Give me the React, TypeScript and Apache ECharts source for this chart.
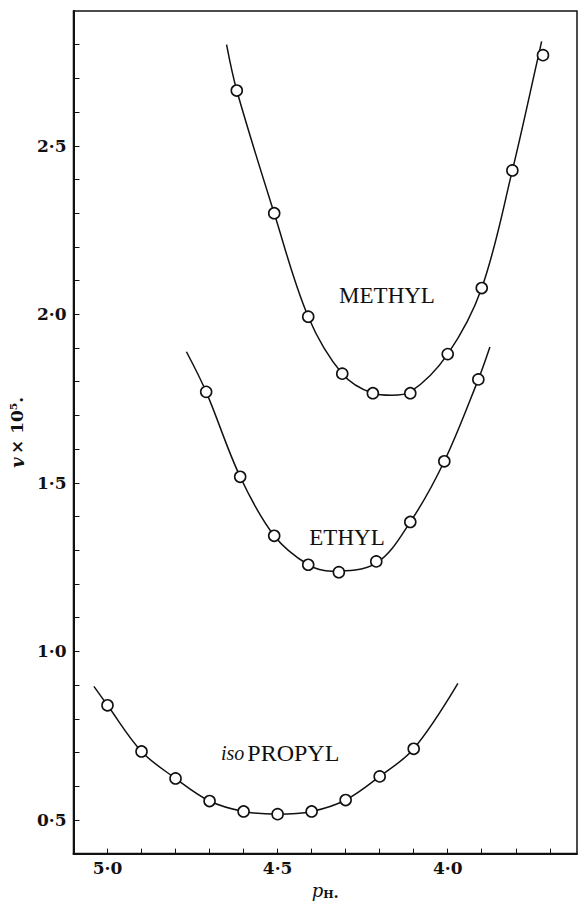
import React, { useEffect, useRef } from "react";
import * as echarts from "echarts";

// ---- data ----
const methylPH = [4.62, 4.51, 4.41, 4.31, 4.22, 4.11, 4.0, 3.9, 3.81, 3.72];
const methylV = [2.664, 2.3, 1.993, 1.824, 1.766, 1.766, 1.882, 2.078, 2.427, 2.769];

const ethylPH = [4.71, 4.61, 4.51, 4.41, 4.32, 4.21, 4.11, 4.01, 3.91];
const ethylV = [1.77, 1.518, 1.343, 1.257, 1.235, 1.267, 1.384, 1.564, 1.807];

const isoPH = [5.0, 4.9, 4.8, 4.7, 4.6, 4.5, 4.4, 4.3, 4.2, 4.1];
const isoV = [0.84, 0.703, 0.623, 0.556, 0.525, 0.517, 0.525, 0.559, 0.629, 0.711];

// fitted curves as drawn
const methylCurvePH = [4.65, 4.62, 4.51, 4.41, 4.31, 4.22, 4.165, 4.11, 4.0, 3.9, 3.81, 3.735, 3.724];
const methylCurveV = [2.8, 2.664, 2.3, 1.993, 1.824, 1.766, 1.76, 1.77, 1.882, 2.078, 2.427, 2.76, 2.81];

const ethylCurvePH = [4.768, 4.71, 4.61, 4.51, 4.41, 4.34, 4.21, 4.11, 4.01, 3.91, 3.876];
const ethylCurveV = [1.889, 1.77, 1.518, 1.343, 1.257, 1.238, 1.262, 1.384, 1.564, 1.807, 1.903];

const isoCurvePH = [5.04, 5.0, 4.9, 4.8, 4.7, 4.6, 4.5, 4.4, 4.3, 4.2, 4.1, 3.97];
const isoCurveV = [0.896, 0.84, 0.703, 0.623, 0.556, 0.525, 0.517, 0.525, 0.559, 0.629, 0.711, 0.905];

const xTicks = [5.0, 4.9, 4.8, 4.7, 4.6, 4.5, 4.4, 4.3, 4.2, 4.1, 4.0, 3.9, 3.8, 3.7];
const xLabels = [5.0, 4.5, 4.0];
const yTicks = [0.5, 0.6, 0.7, 0.8, 0.9, 1.0, 1.1, 1.2, 1.3, 1.4, 1.5, 1.6, 1.7, 1.8, 1.9, 2.0, 2.1, 2.2, 2.3, 2.4, 2.5, 2.6, 2.7, 2.8];
const yLabels = [0.5, 1.0, 1.5, 2.0, 2.5];

const zip = (a: number[], b: number[]) => a.map((x, i) => [x, b[i]]);
const fmt = (v: number) => v.toFixed(1).replace(".", "·");

const INK = "#111";

export default function App() {
  const ref = useRef<HTMLDivElement>(null);
  useEffect(() => {
    document.body.style.margin = "0";
    if (!ref.current) return;
    const chart = echarts.init(ref.current, undefined, { renderer: "svg" });
    const curve = (name: string, px: number[], vy: number[]) => ({
      name,
      type: "line",
      data: zip(px, vy),
      smooth: 0.35,
      showSymbol: false,
      symbol: "none",
      silent: true,
      lineStyle: { color: INK, width: 1.5 },
      z: 2,
    });
    const pts = (name: string, px: number[], vy: number[]) => ({
      name,
      type: "scatter",
      data: zip(px, vy),
      symbol: "circle",
      symbolSize: 11,
      itemStyle: { color: "#ffffff", borderColor: INK, borderWidth: 1.6, opacity: 1 },
      z: 3,
    });
    const labelFont = {
      fontFamily: "DejaVu Serif",
      fontWeight: "bold" as const,
      fontSize: 17,
      color: INK,
    };
    chart.setOption({
      animation: false,
      backgroundColor: "#fff",
      grid: {
        left: 72,
        right: 3,
        top: 11,
        bottom: 50,
        show: true,
        borderColor: INK,
        borderWidth: 1.5,
        backgroundColor: "transparent",
      },
      xAxis: {
        type: "value",
        min: 3.62,
        max: 5.1,
        inverse: true,
        axisLine: { show: true, lineStyle: { color: INK, width: 2 } },
        axisTick: { show: true, inside: true, length: 5, customValues: xTicks, lineStyle: { color: INK, width: 1 } },
        axisLabel: { ...labelFont, customValues: xLabels, formatter: fmt, margin: 6 },
        splitLine: { show: false },
        name: "{p|p}{h|H}{d|.}",
        nameLocation: "middle",
        nameGap: 26,
        nameTextStyle: {
          rich: {
            p: { fontFamily: "DejaVu Serif", fontStyle: "italic", fontSize: 18, color: INK },
            h: { fontFamily: "DejaVu Serif", fontWeight: "bold", fontSize: 11, color: INK, padding: [8, 0, 0, 0] },
            d: { fontFamily: "DejaVu Serif", fontWeight: "bold", fontSize: 15, color: INK, padding: [4, 0, 0, 0] },
          },
        },
      },
      yAxis: {
        type: "value",
        min: 0.4,
        max: 2.9,
        axisLine: { show: true, lineStyle: { color: INK, width: 2 } },
        axisTick: { show: true, inside: true, length: 6, customValues: yTicks, lineStyle: { color: INK, width: 1 } },
        axisLabel: { ...labelFont, customValues: yLabels, formatter: fmt, margin: 7 },
        splitLine: { show: false },
        name: "{v|v} {b|× 10⁵.}",
        nameLocation: "middle",
        nameRotate: 90,
        nameGap: 45,
        nameTextStyle: {
          rich: {
            v: { fontFamily: "DejaVu Serif", fontStyle: "italic", fontWeight: "bold", fontSize: 18, color: INK },
            b: { fontFamily: "DejaVu Serif", fontWeight: "bold", fontSize: 17, color: INK },
          },
        },
      },
      graphic: [
        {
          type: "text",
          x: 387,
          y: 295,
          style: {
            text: "METHYL",
            fontFamily: "Liberation Serif",
            fontSize: 23,
            fill: INK,
            align: "center",
            verticalAlign: "middle",
          },
        },
        {
          type: "text",
          x: 347,
          y: 537,
          style: {
            text: "ETHYL",
            fontFamily: "Liberation Serif",
            fontSize: 23,
            fill: INK,
            align: "center",
            verticalAlign: "middle",
          },
        },
        {
          type: "text",
          x: 221,
          y: 753,
          style: {
            text: "{i|iso}{p|PROPYL}",
            align: "left",
            verticalAlign: "middle",
            rich: {
              i: { fontFamily: "Liberation Serif", fontStyle: "italic", fontSize: 20, fill: INK, padding: [0, 3, 0, 0] },
              p: { fontFamily: "Liberation Serif", fontSize: 24, fill: INK },
            },
          },
        },
      ],
      series: [
        curve("methyl curve", methylCurvePH, methylCurveV),
        curve("ethyl curve", ethylCurvePH, ethylCurveV),
        curve("isopropyl curve", isoCurvePH, isoCurveV),
        pts("METHYL", methylPH, methylV),
        pts("ETHYL", ethylPH, ethylV),
        pts("isoPROPYL", isoPH, isoV),
      ],
    });
    return () => chart.dispose();
  }, []);
  return <div ref={ref} style={{ width: 580, height: 905 }} />;
}
